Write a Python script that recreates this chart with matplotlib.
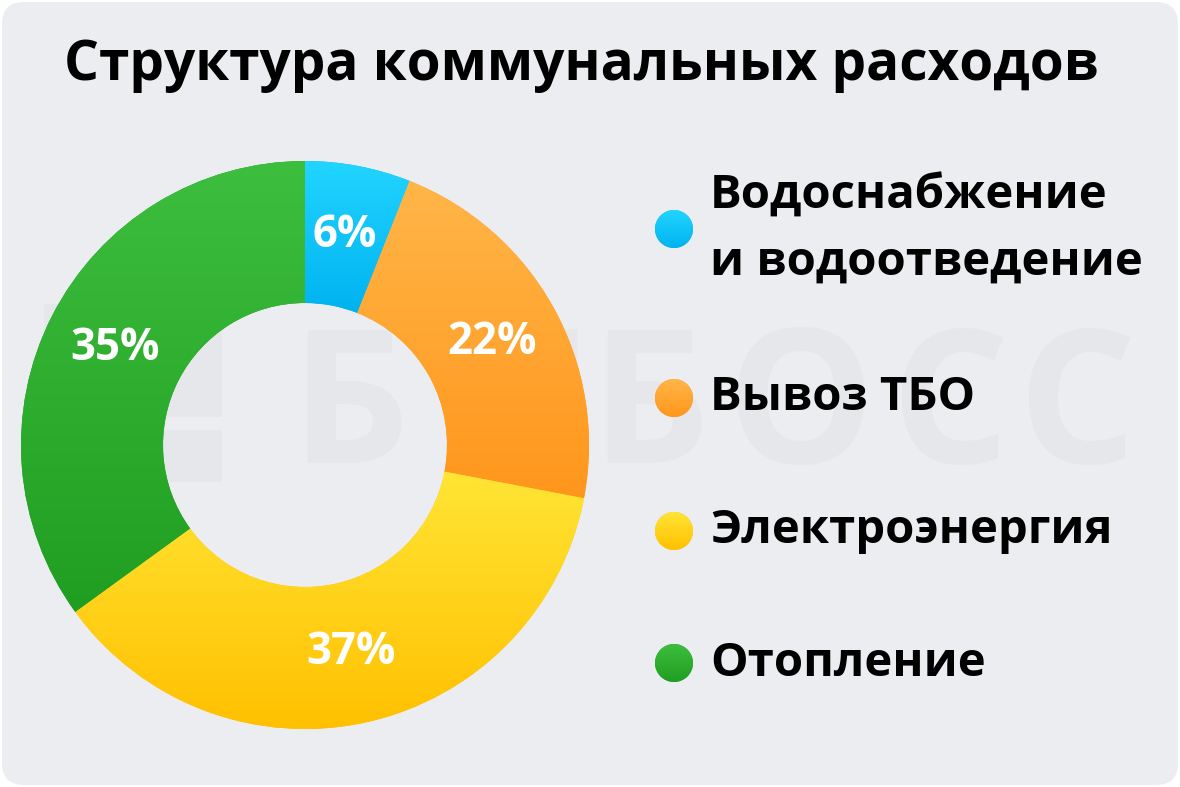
import numpy as np
import matplotlib
matplotlib.use("Agg")
from matplotlib import pyplot as plt
from matplotlib import font_manager as fm
from matplotlib.patches import FancyBboxPatch, Circle, Rectangle
from matplotlib.colors import LinearSegmentedColormap

title = "Структура коммунальных расходов"
categories = ["Водоснабжение\nи водоотведение", "Вывоз ТБО", "Электроэнергия", "Отопление"]
shares = [6, 22, 37, 35]
watermark = "БИБОСС"
# (top colour, bottom colour) for each slice
grad_colors = [("#22D4FF", "#00B3F0"),
               ("#FFB648", "#FF961C"),
               ("#FFE535", "#FFC000"),
               ("#3EBE3E", "#1F9E21")]

W, H = 1180, 787


def pick_bold(cands):
    # first family that really has a static bold face
    for fam in cands:
        try:
            path = fm.findfont(fm.FontProperties(family=fam, weight="bold"),
                               fallback_to_default=False)
        except Exception:
            continue
        if "bold" in path.lower():
            return fam
    return "DejaVu Sans"


FAM = pick_bold(["Noto Sans", "Open Sans", "Roboto", "Inter", "Lato", "Liberation Sans"])
plt.rcParams['font.family'] = [FAM, 'DejaVu Sans']


def py(y):
    # pixel row from the top -> data y
    return H - y


def gradient_fill(ax, patch, top, bottom, zorder):
    cmap = LinearSegmentedColormap.from_list("g", [bottom, top])
    bb = patch.get_path().transformed(patch.get_patch_transform()).get_extents()
    grad = np.linspace(0, 1, 256).reshape(-1, 1)
    im = ax.imshow(grad, cmap=cmap, origin="lower", aspect="auto",
                   extent=[bb.x0, bb.x1, bb.y0, bb.y1], zorder=zorder)
    im.set_clip_path(patch)
    return im


fig = plt.figure(figsize=(W / 100, H / 100), dpi=100)
fig.patch.set_facecolor("white")
ax = fig.add_axes([0, 0, 1, 1])
ax.set_xlim(0, W)
ax.set_ylim(0, H)
ax.axis("off")

bg = FancyBboxPatch((2, 2), W - 4, H - 4, boxstyle="round,pad=0,rounding_size=22",
                    facecolor="#ECEDF1", edgecolor="none", zorder=0)
ax.add_patch(bg)

# faint watermark behind the chart
wm_col = "#E6E7EB"
ax.add_patch(Rectangle((44, py(417)), 178, 113, facecolor=wm_col, edgecolor="none", zorder=1))
ax.add_patch(Rectangle((44, py(482)), 178, 52, facecolor=wm_col, edgecolor="none", zorder=1))
for ch, x in zip(watermark, [290, 440, 590, 726, 890, 1017]):
    ax.text(x, py(463), ch, fontsize=134, fontweight="bold", color=wm_col,
            ha="left", va="baseline", zorder=1)

cx, cy, r_out = 305, py(445), 284
wedges, texts, autotexts = ax.pie(
    shares, startangle=90, counterclock=False, radius=r_out, center=(cx, cy),
    wedgeprops=dict(width=r_out * 0.5, linewidth=0),
    colors=[c[1] for c in grad_colors],
    autopct="%d%%", pctdistance=0.75,
    textprops=dict(color="white", fontsize=31.5, fontweight="bold"))
for w, (top, bot) in zip(wedges, grad_colors):
    w.set_zorder(2)
    gradient_fill(ax, w, top, bot, 3)
for t in autotexts:
    t.set_zorder(5)

ax.set_xlim(0, W)
ax.set_ylim(0, H)
ax.set_aspect("equal")

ax.text(581, py(80), title, fontsize=39.5, fontweight="bold", color="black",
        ha="center", va="baseline", zorder=5)

legend_y = [229, 398, 531, 663]
for lab, (top, bot), y in zip(categories, grad_colors, legend_y):
    c = Circle((674, py(y)), 19, facecolor=bot, edgecolor="none", zorder=3)
    ax.add_patch(c)
    gradient_fill(ax, c, top, bot, 4)
    ax.text(710, py(y), lab, fontsize=34, fontweight="bold", color="black",
            ha="left", va="center", linespacing=1.55, zorder=5)

fig.savefig("out.png", dpi=100, facecolor="white")
